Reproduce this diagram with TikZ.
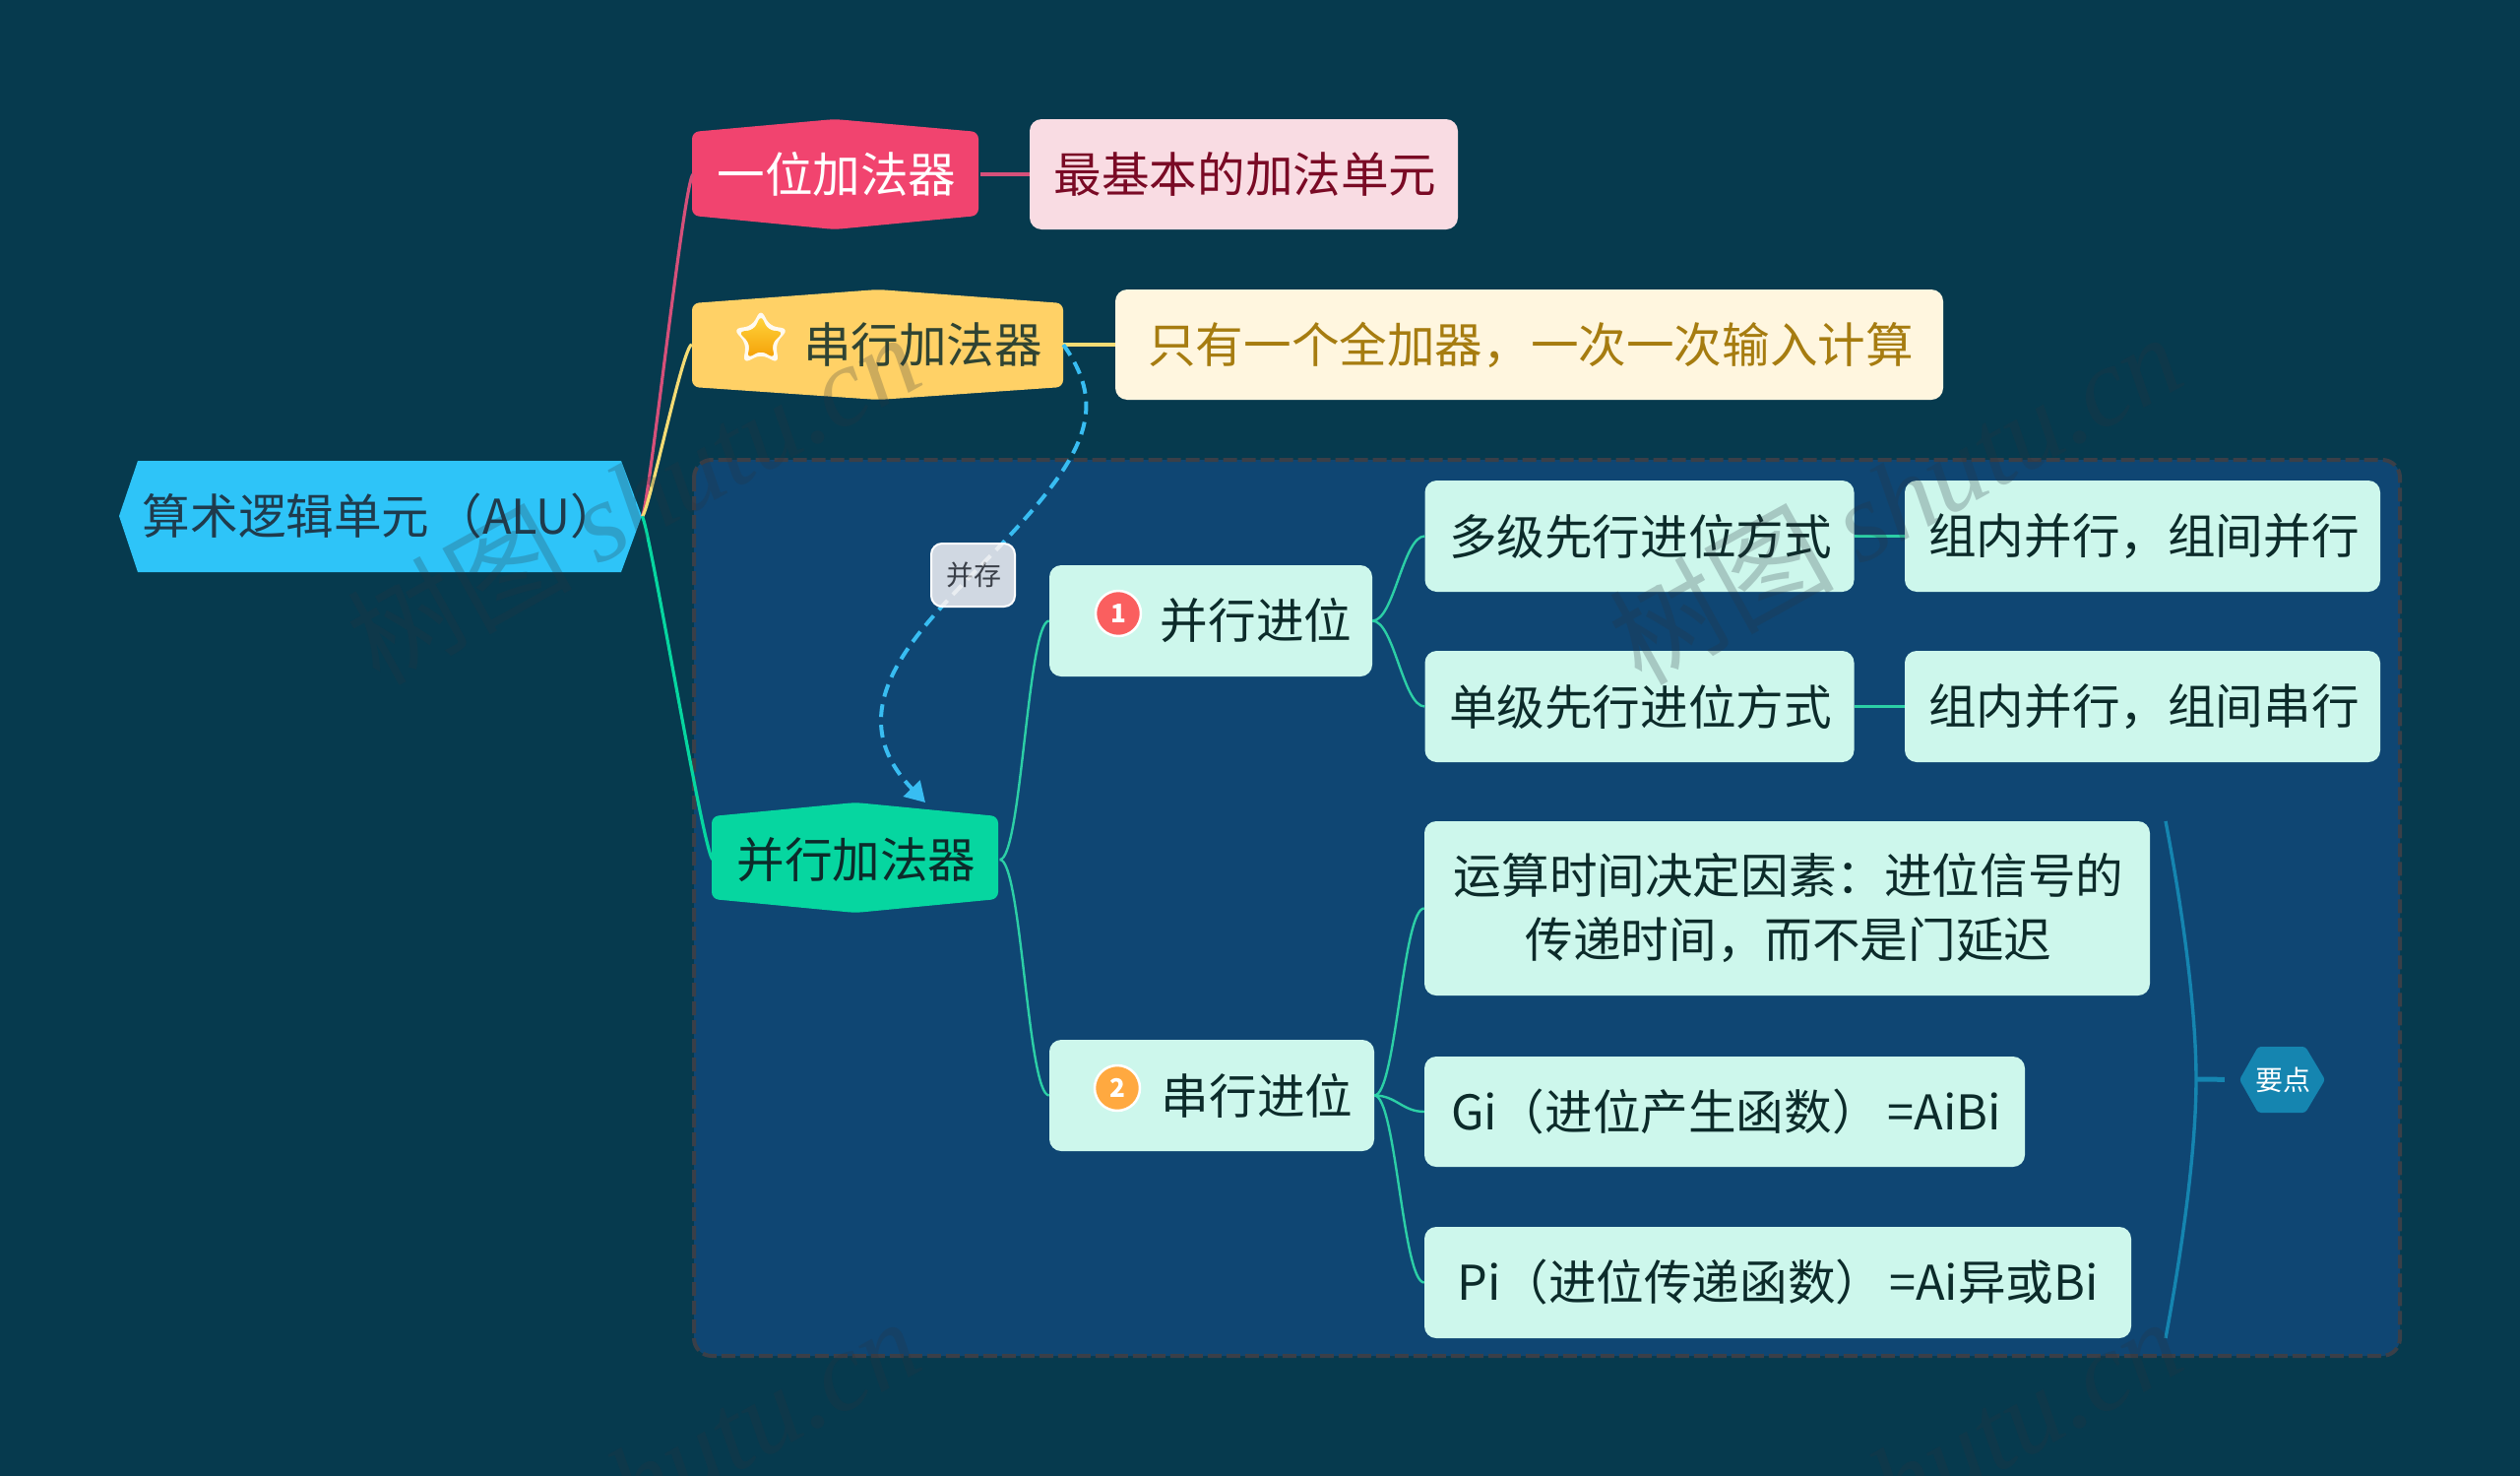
\documentclass[tikz,border=0pt]{standalone}
\usepackage{fontspec}
\setmainfont{Noto Sans CJK SC}
\newfontfamily\wmserif{Liberation Serif}
\usetikzlibrary{arrows.meta,shapes.geometric,calc}
\definecolor{bgc}{HTML}{063A4E}
\definecolor{groupc}{HTML}{0F4673}
\definecolor{groupb}{HTML}{3A3F48}
\definecolor{rootc}{HTML}{2EC4F8}
\definecolor{roott}{HTML}{1F3B4D}
\definecolor{pinkc}{HTML}{F1446F}
\definecolor{pinkl}{HTML}{F9DCE3}
\definecolor{pinkt}{HTML}{7A0A25}
\definecolor{pinkln}{HTML}{D6507A}
\definecolor{yelc}{HTML}{FFD166}
\definecolor{yell}{HTML}{FFF6DF}
\definecolor{yelt}{HTML}{A67C10}
\definecolor{yelln}{HTML}{F5DC74}
\definecolor{grnc}{HTML}{06D6A0}
\definecolor{grnl}{HTML}{CDF7EC}
\definecolor{grnln}{HTML}{2CCFA6}
\definecolor{darkt}{HTML}{0C2B2A}
\definecolor{dashc}{HTML}{38BDF2}
\definecolor{sumc}{HTML}{1585B0}
\definecolor{tagc}{HTML}{D0D8E2}
\definecolor{wmc}{HTML}{2A343E}
\definecolor{badgea}{HTML}{FA5F5F}
\definecolor{badgeb}{HTML}{FFA940}
\definecolor{stara}{HTML}{FFD53D}
\definecolor{starb}{HTML}{F5A007}
\newcommand{\hexfill}[8]{\fill[#8,rounded corners=7pt] (#1,#5) -- (#3,#4) -- (#2,#5) -- (#2,#6) -- (#3,#7) -- (#1,#6) -- cycle;}
\newcommand{\dashroute}{(ser.east) .. controls (1130,420) and (1100,470) .. (988,583) .. controls (922,651) and (853,725) .. (dashend)}
\newcommand{\wmtext}{树图 {\wmserif\itshape shutu.cn}}
\tikzset{
  x=1pt,y=-1pt,
  every node/.style={font=\fontsize{48.6}{65}\selectfont,inner sep=0pt,align=center},
  hexlabel/.style={rectangle},
  lbox/.style={rectangle,rounded corners=12pt,fill=grnl,text=darkt},
  plainln/.style={line width=2.4pt,color=grnln},
  curveln/.style={plainln,out=0,in=180,out distance=22pt,in distance=22pt},
  rootln/.style={line width=3.2pt,out=0,in=180,out distance=6pt,in distance=9pt},
  dashln/.style={line width=4pt,color=dashc,dash pattern=on 13pt off 8pt},
  smalltxt/.style={font=\fontsize{28}{34}\selectfont},
  wmark/.style={font=\fontsize{114}{120}\selectfont,rotate=29,text=wmc,text opacity=.24},
}
\begin{document}
\begin{tikzpicture}
\useasboundingbox (0,0) rectangle (2560,1499);
\fill[bgc] (0,0) rectangle (2560,1499);
\draw[groupb,fill=groupc,line width=4pt,rounded corners=18pt,dash pattern=on 14pt off 5pt] (705,467) rectangle (2438,1377);

% root
\fill[rootc] (121,524) -- (140,468) -- (631,468) -- (652,524) -- (631,581) -- (140,581) -- cycle;
\node[hexlabel,minimum width=531pt,minimum height=113pt,text=roott] (root) at (386.5,524.5) {算术逻辑单元\hspace{5pt}（ALU）};

% first level
\hexfill{703}{994}{848}{121}{134}{219}{233}{pinkc}
\node[hexlabel,minimum width=291pt,minimum height=112pt,text=white] (one) at (850,177) {一位加法器};
\node[lbox,fill=pinkl,text=pinkt,minimum width=435pt,minimum height=112pt] (onel) at (1263.5,177) {\hspace*{3pt}最基本的加法单元};

\hexfill{703}{1080}{892}{294}{308}{393}{406}{yelc}
\node[hexlabel,minimum width=377pt,minimum height=112pt,text=darkt!85!yelc] (ser) at (891.5,350) {\hspace*{92pt}串行加法器};
\node[lbox,fill=yell,text=yelt,minimum width=841pt,minimum height=112pt] (serl) at (1553.5,350) {\hspace*{3pt}只有一个全加器，一次一次输入计算};

% star icon
\fill[white!90!yelc,rounded corners=7pt]
  (773,314) -- (782,331) -- (801,334) -- (788,349) -- (791,369) -- (773,360) -- (755,369) -- (758,349) -- (745,334) -- (764,331) -- cycle;
\shade[top color=stara,bottom color=starb,rounded corners=6pt]
  (773,320) -- (780,335) -- (796,337) -- (784,349) -- (787,364) -- (773,356) -- (759,364) -- (762,349) -- (750,337) -- (766,335) -- cycle;

\hexfill{723}{1014}{869}{815}{829}{913}{927}{grnc}
\node[hexlabel,minimum width=291pt,minimum height=112pt,text=darkt] (par) at (870,873) {并行加法器};

% second level
\node[lbox,minimum width=328pt,minimum height=113pt] (pc) at (1230,630.5) {\hspace*{92pt}并行进位};
\node[lbox,minimum width=330pt,minimum height=113pt] (sc) at (1231,1112.5) {\hspace*{92pt}串行进位};
\draw[white,line width=2.5pt,fill=badgea] (1136,623) circle (23pt);
\node[font=\fontsize{26}{30}\selectfont\bfseries,text=white] (b1) at (1136,623) {1};
\draw[white,line width=2.5pt,fill=badgeb] (1135,1105) circle (23pt);
\node[font=\fontsize{26}{30}\selectfont\bfseries,text=white] (b2) at (1135,1105) {2};

% third level
\node[lbox,minimum width=436pt,minimum height=113pt] (dj) at (1665.5,544.5) {\hspace*{2pt}多级先行进位方式};
\node[lbox,minimum width=436pt,minimum height=113pt] (oj) at (1665.5,717.5) {\hspace*{2pt}单级先行进位方式};
\node[lbox,minimum width=483pt,minimum height=113pt] (zb) at (2176.5,544.5) {\hspace*{3pt}组内并行，组间并行};
\node[lbox,minimum width=483pt,minimum height=113pt] (zc) at (2176.5,717.5) {\hspace*{3pt}组内并行，组间串行};
\node[lbox,minimum width=737pt,minimum height=177pt] (ys) at (1815.5,922.5) {\raisebox{-1.5pt}{\hspace*{3pt}运算时间决定因素：进位信号的}\\\raisebox{-1.5pt}{\hspace*{3pt}传递时间，而不是门延迟}};
\node[lbox,minimum width=610pt,minimum height=112pt] (gi) at (1752,1129) {\hspace*{3pt}Gi（进位产生函数）\hspace{8pt}=AiBi};
\node[lbox,minimum width=718pt,minimum height=113pt] (pi) at (1806,1302.5) {Pi（进位传递函数）\hspace{6pt}=Ai异或Bi};

% summary
\coordinate (bkt) at (2200,834);
\coordinate (bkm) at (2231,1096);
\coordinate (bkb) at (2200,1359);
\draw[sumc,line width=3.4pt] (bkt) .. controls (2222,950) and (2231,1040) .. (bkm) .. controls (2231,1152) and (2222,1240) .. (bkb);
\fill[sumc,rounded corners=3pt] (2275,1096.5) -- (2294,1063) -- (2342,1063) -- (2362,1096.5) -- (2342,1130) -- (2294,1130) -- cycle;
\node[smalltxt,text=white,minimum width=87pt,minimum height=67pt] (yd) at (2319.5,1096.5) {要点};
\draw[sumc,line width=5pt,shorten >=16pt] (bkm) -- (yd.west);

% connectors
\draw[pinkln,rootln] (root.east) to (one.west);
\draw[yelln,rootln] (root.east) to (ser.west);
\draw[grnc,rootln] (root.east) to (par.west);
\draw[pinkln,line width=3.2pt] (one.east) -- (onel.west);
\draw[yelln,line width=3.2pt] (ser.east) -- (serl.west);
\draw[curveln] (par.east) to (pc.west);
\draw[curveln] (par.east) to (sc.west);
\draw[curveln] (pc.east) to (dj.west);
\draw[curveln] (pc.east) to (oj.west);
\draw[curveln] (sc.east) to (ys.west);
\draw[curveln] (sc.east) to (gi.west);
\draw[curveln] (sc.east) to (pi.west);
\draw[plainln] (dj.east) -- (zb.west);
\draw[plainln] (oj.east) -- (zc.west);

% dashed relation
\coordinate (dashend) at (940,815);
\draw[dashln,-{Triangle[length=20pt,width=23pt,fill=dashc]}] \dashroute;
\draw[white,line width=2pt,fill=tagc,rounded corners=11pt] (946,552) rectangle (1031,616);
\node[smalltxt,text=groupb,minimum width=87pt,minimum height=66pt] (bc) at (989.5,584) {并存};
\begin{scope}
\clip (946,552) rectangle (1031,616);
\draw[dashln,white,opacity=.55] \dashroute;
\end{scope}

% marks lying over the whole picture
\begin{scope}
\clip (0,0) rectangle (2560,1499);
\node[wmark] (wa) at (643,505) {\wmtext};
\node[wmark] (wb) at (1925,505) {\wmtext};
\node[wmark] (wc) at (643,1505) {\wmtext};
\node[wmark] (wd) at (1925,1505) {\wmtext};
\end{scope}
\end{tikzpicture}
\end{document}
